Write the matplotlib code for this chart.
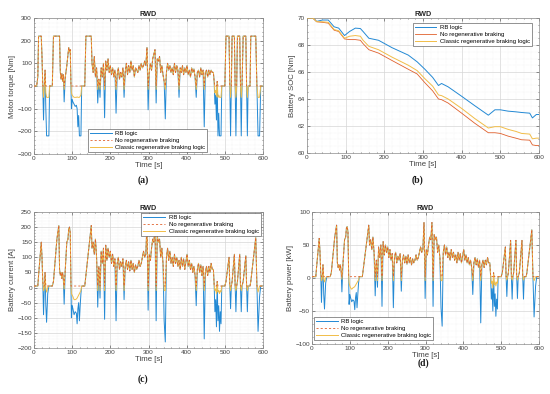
import matplotlib

matplotlib.use("Agg")
import matplotlib.pyplot as plt
from matplotlib.ticker import MultipleLocator

plt.rcParams["font.family"] = ["Liberation Sans", "DejaVu Sans"]

COLORS = {
    "rb": "#2389d4",
    "noregen": "#e0602c",
    "classic": "#f1bd48",
}
LABELS = ["RB logic", "No regenerative braking", "Classic regenerative braking logic"]

# drive cycle time base shared by torque, current and power
time_s = [
    0, 7, 10, 12, 19, 21, 23, 25, 27, 29, 31, 33, 36, 39, 41, 48,
    51, 60, 65, 67, 69, 71, 73, 75, 77, 79, 82, 86, 89, 91, 93, 95, 97,
    98, 100, 102, 105, 108, 111, 113, 115, 117, 119, 121, 123, 125, 133,
    136, 150,
    152, 155, 158, 161, 164, 167, 170, 173, 176, 179,
    182, 185, 188, 191, 194, 197, 200, 203, 206, 209,
    212, 215, 218, 221, 224, 227, 230, 233, 236, 239,
    242, 245, 248, 251, 254, 257, 260, 263, 266, 269,
    272, 275, 278, 281, 284, 287, 290, 293, 296, 299,
    302, 305, 308, 311, 314, 317, 320, 323, 326, 329,
    332, 335, 338, 341, 344, 347, 350, 353, 356, 359,
    362, 365, 368, 371, 374, 377, 380, 383, 386, 389,
    392, 395, 398, 401, 404, 407, 410, 413, 416, 419,
    422, 425, 428, 431, 434, 437, 440, 443, 446, 449,
    452, 455, 458, 461, 464, 467, 470,
    472, 474, 476, 478, 480, 482, 484, 486, 488, 490, 492, 500,
    503, 511, 513, 515, 517, 519, 525, 527, 529, 531, 533, 539, 541, 543,
    545, 548, 555, 557, 559, 561, 566, 568, 581, 584, 587, 591, 594, 600,
]

# (a) motor torque [Nm]
torque_rb = [
    0, 0, 40, 220, 220, 130, 0, -150, 0, 70, -100, -220, -220, -220, 0, 0,
    220, 220, 220, 220, 60, 30, 55, 20, 50, -70, 40, 90, 140, 170, 150, 160, 0,
    -100, -60, -70, -80, -90, -85, -100, -180, -130, -220, -220, -220, 0, 0,
    220, 220,
    100, 60, 130, 40, 80, -75, 30, -50, 80, 40,
    100, -140, 110, 70, 120, 60, 90, 50, 80, 40,
    70, -120, 50, 80, 30, 60, 40, 80, -50, 60,
    100, 50, 90, 60, 110, 70, 90, 40, 80, 70,
    60, 90, 70, 100, 80, 90, 110, 90, 170, -105,
    60, 100, 70, 120, 140, 160, -75, 120, 110, 130,
    60, 90, 50, 20, -145, 60, 100, 70, 90, 60,
    80, 50, 100, 60, 90, 70, -50, 80, 60, 90,
    50, 80, 60, 90, 50, 70, 40, 80, 60, 75,
    40, -50, 60, 70, 40, 80, 50, 70, -180, 60,
    70, 40, 70, 50, 70, 60, 60,
    20, -80, -40, -150, 20, -220, -120, -220, -220, -220, 0, 0,
    220, 220, 0, -220, 0, 220, 220, 0, -220, 0, 220, 220, 0, -220,
    0, 220, 220, 0, -220, 0, 0, 220, 220, 0, -220, -220, 0, 0,
]
torque_noregen = [
    0, 0, 40, 220, 220, 130, 0, 0, 0, 70, 0, 0, 0, 0, 0, 0,
    220, 220, 220, 220, 60, 30, 55, 20, 50, 0, 40, 90, 140, 170, 150, 160, 0,
    0, 0, 0, 0, 0, 0, 0, 0, 0, 0, 0, 0, 0, 0,
    220, 220,
    100, 60, 130, 40, 80, 0, 30, 0, 80, 40,
    100, 0, 110, 70, 120, 60, 90, 50, 80, 40,
    70, 0, 50, 80, 30, 60, 40, 80, 0, 60,
    100, 50, 90, 60, 110, 70, 90, 40, 80, 70,
    60, 90, 70, 100, 80, 90, 110, 90, 170, 0,
    60, 100, 70, 120, 140, 160, 0, 120, 110, 130,
    60, 90, 50, 20, 0, 60, 100, 70, 90, 60,
    80, 50, 100, 60, 90, 70, 0, 80, 60, 90,
    50, 80, 60, 90, 50, 70, 40, 80, 60, 75,
    40, 0, 60, 70, 40, 80, 50, 70, 0, 60,
    70, 40, 70, 50, 70, 60, 60,
    20, 0, 0, 0, 20, 0, 0, 0, 0, 0, 0, 0,
    220, 220, 0, 0, 0, 220, 220, 0, 0, 0, 220, 220, 0, 0,
    0, 220, 220, 0, 0, 0, 0, 220, 220, 0, 0, 0, 0, 0,
]
torque_classic = [
    0, 0, 40, 220, 220, 130, 0, -50, 0, 70, -30, -50, -50, -50, 0, 0,
    220, 220, 220, 220, 60, 30, 55, 20, 50, -15, 40, 90, 140, 170, 150, 160, 0,
    -30, -40, -45, -50, -50, -50, -48, -50, -50, -50, -45, -40, 0, 0,
    220, 220,
    100, 60, 130, 40, 80, -15, 30, -15, 80, 40,
    100, -15, 110, 70, 120, 60, 90, 50, 80, 40,
    70, -15, 50, 80, 30, 60, 40, 80, -15, 60,
    100, 50, 90, 60, 110, 70, 90, 40, 80, 70,
    60, 90, 70, 100, 80, 90, 110, 90, 170, -15,
    60, 100, 70, 120, 140, 160, -15, 120, 110, 130,
    60, 90, 50, 20, -15, 60, 100, 70, 90, 60,
    80, 50, 100, 60, 90, 70, -15, 80, 60, 90,
    50, 80, 60, 90, 50, 70, 40, 80, 60, 75,
    40, -15, 60, 70, 40, 80, 50, 70, -15, 60,
    70, 40, 70, 50, 70, 60, 60,
    20, -30, -20, -45, 20, -50, -40, -50, -50, -50, 0, 0,
    220, 220, 0, -50, 0, 220, 220, 0, -50, 0, 220, 220, 0, -50,
    0, 220, 220, 0, -50, 0, 0, 220, 220, 0, -50, -50, 0, 0,
]

# (c) battery current [A]
current_rb = [
    5, 5, 5, 40, 150, 100, 20, -90, 0, 50, -60, -115, -20, 5, 5, 5,
    20, 160, 205, 60, 40, 50, 30, 50, 25, -55, 60, 150, 160, 195, 200, 180, 5,
    -100, -60, -70, -90, -80, -85, -120, -70, -50, -110, -60, -20, 5, 5,
    40, 205,
    130, 150, 110, 160, 100, -65, 70, -35, 120, 80,
    130, -105, 140, 90, 130, 100, 120, 80, 110, 70,
    95, -110, 80, 100, 60, 85, 70, 95, -40, 70,
    90, 60, 85, 55, 90, 60, 80, 50, 75, 60,
    70, 90, 70, 80, 100, 120, 100, 110, 215, -75,
    110, 90, 130, 160, 150, 195, -110, 170, 150, 160,
    100, 130, 80, -110, -180, 100, 130, 90, 120, 80,
    100, 70, 110, 80, 100, 70, 90, 60, 100, 70,
    95, 60, 85, 110, 70, 90, 60, 80, 50, 70,
    40, -60, 60, 80, 50, 75, 40, 70, -170, 50,
    70, 40, 70, 50, 80, 60, 60,
    10, -80, -40, -130, 20, -110, -60, -145, -80, -120, 5, 5,
    20, 100, 5, -70, 5, 20, 110, 5, -80, 5, 20, 110, 5, -80,
    5, 20, 105, 5, -80, 5, 5, 20, 165, 5, -145, -30, 5, 5,
]
current_noregen = [
    5, 5, 5, 40, 150, 100, 20, 5, 5, 50, 5, 5, 5, 5, 5, 5,
    20, 160, 205, 60, 40, 50, 30, 50, 25, 5, 60, 150, 160, 195, 200, 180, 5,
    5, 5, 5, 5, 5, 5, 5, 5, 5, 5, 5, 5, 5, 5,
    40, 205,
    130, 150, 110, 160, 100, 5, 70, 5, 120, 80,
    130, 5, 140, 90, 130, 100, 120, 80, 110, 70,
    95, 5, 80, 100, 60, 85, 70, 95, 5, 70,
    90, 60, 85, 55, 90, 60, 80, 50, 75, 60,
    70, 90, 70, 80, 100, 120, 100, 110, 215, 5,
    110, 90, 130, 160, 150, 195, 5, 170, 150, 160,
    100, 130, 80, 5, 5, 100, 130, 90, 120, 80,
    100, 70, 110, 80, 100, 70, 90, 60, 100, 70,
    95, 60, 85, 110, 70, 90, 60, 80, 50, 70,
    40, 5, 60, 80, 50, 75, 40, 70, 5, 50,
    70, 40, 70, 50, 80, 60, 60,
    10, 5, 5, 5, 20, 5, 5, 5, 5, 5, 5, 5,
    20, 100, 5, 5, 5, 20, 110, 5, 5, 5, 20, 110, 5, 5,
    5, 20, 105, 5, 5, 5, 5, 20, 165, 5, 5, 5, 5, 5,
]
current_classic = [
    5, 5, 5, 40, 150, 100, 20, -10, 0, 50, -5, -15, 0, 5, 5, 5,
    20, 160, 205, 60, 40, 50, 30, 50, 25, -5, 60, 150, 160, 195, 200, 180, 5,
    -20, -25, -30, -40, -40, -38, -35, -30, -25, -20, -15, -10, 5, 5,
    40, 205,
    130, 150, 110, 160, 100, -10, 70, -10, 120, 80,
    130, -10, 140, 90, 130, 100, 120, 80, 110, 70,
    95, -10, 80, 100, 60, 85, 70, 95, -10, 70,
    90, 60, 85, 55, 90, 60, 80, 50, 75, 60,
    70, 90, 70, 80, 100, 120, 100, 110, 215, -10,
    110, 90, 130, 160, 150, 195, -10, 170, 150, 160,
    100, 130, 80, -10, -10, 100, 130, 90, 120, 80,
    100, 70, 110, 80, 100, 70, 90, 60, 100, 70,
    95, 60, 85, 110, 70, 90, 60, 80, 50, 70,
    40, -10, 60, 80, 50, 75, 40, 70, -10, 50,
    70, 40, 70, 50, 80, 60, 60,
    10, -10, -5, -20, 20, -15, -10, -20, -10, -15, 5, 5,
    20, 100, 5, -10, 5, 20, 110, 5, -10, 5, 20, 110, 5, -10,
    5, 20, 105, 5, -10, 5, 5, 20, 165, 5, -15, 5, 5, 5,
]

# (d) battery power [kW]
power_rb = [
    2, 2, 2, 16, 60, 40, 8, -37, 0, 20, -25, -47, -8, 2, 2, 2,
    8, 62, 80, 23, 16, 20, 12, 20, 10, -21, 23, 58, 62, 76, 78, 70, 2,
    -40, -25, -30, -36, -33, -35, -48, -30, -22, -45, -25, -8, 2, 2,
    16, 80,
    50, 58, 43, 62, 39, -27, 27, -14, 47, 31,
    50, -43, 55, 35, 50, 39, 47, 31, 43, 27,
    37, -45, 31, 39, 23, 33, 27, 37, -20, 27,
    35, 23, 33, 21, 35, 23, 31, 20, 29, 23,
    27, 35, 27, 31, 39, 47, 39, 43, 84, -31,
    43, 35, 50, 62, 58, 84, -43, 66, 58, 62,
    39, 50, 31, -45, -73, 39, 50, 35, 47, 31,
    39, 27, 43, 31, 39, 27, 35, 23, 39, 27,
    37, 23, 33, 43, 27, 35, 23, 31, 20, 27,
    16, -25, 23, 31, 20, 29, 16, 27, -68, 20,
    27, 16, 27, 20, 31, 23, 23,
    4, -32, -16, -50, 8, -43, -24, -58, -32, -47, 2, 2,
    8, 47, 2, -28, 2, 8, 57, 2, -32, 2, 8, 57, 2, -31,
    2, 8, 57, 2, -32, 2, 2, 8, 73, 2, -59, -12, 2, 2,
]
power_noregen = [
    2, 2, 2, 16, 60, 40, 8, 2, 2, 20, 2, 2, 2, 2, 2, 2,
    8, 62, 80, 23, 16, 20, 12, 20, 10, 2, 23, 58, 62, 76, 78, 70, 2,
    2, 2, 2, 2, 2, 2, 2, 2, 2, 2, 2, 2, 2, 2,
    16, 80,
    50, 58, 43, 62, 39, 2, 27, 2, 47, 31,
    50, 2, 55, 35, 50, 39, 47, 31, 43, 27,
    37, 2, 31, 39, 23, 33, 27, 37, 2, 27,
    35, 23, 33, 21, 35, 23, 31, 20, 29, 23,
    27, 35, 27, 31, 39, 47, 39, 43, 84, 2,
    43, 35, 50, 62, 58, 84, 2, 66, 58, 62,
    39, 50, 31, 2, 2, 39, 50, 35, 47, 31,
    39, 27, 43, 31, 39, 27, 35, 23, 39, 27,
    37, 23, 33, 43, 27, 35, 23, 31, 20, 27,
    16, 2, 23, 31, 20, 29, 16, 27, 2, 20,
    27, 16, 27, 20, 31, 23, 23,
    4, 2, 2, 2, 8, 2, 2, 2, 2, 2, 2, 2,
    8, 47, 2, 2, 2, 8, 57, 2, 2, 2, 8, 57, 2, 2,
    2, 8, 57, 2, 2, 2, 2, 8, 73, 2, 2, 2, 2, 2,
]
power_classic = [
    2, 2, 2, 16, 60, 40, 8, -4, 0, 20, -2, -6, 0, 2, 2, 2,
    8, 62, 80, 23, 16, 20, 12, 20, 10, -2, 23, 58, 62, 76, 78, 70, 2,
    -8, -12, -15, -17, -15, -14, -13, -11, -9, -7, -5, -3, 2, 2,
    16, 80,
    50, 58, 43, 62, 39, -4, 27, -4, 47, 31,
    50, -4, 55, 35, 50, 39, 47, 31, 43, 27,
    37, -4, 31, 39, 23, 33, 27, 37, -4, 27,
    35, 23, 33, 21, 35, 23, 31, 20, 29, 23,
    27, 35, 27, 31, 39, 47, 39, 43, 84, -4,
    43, 35, 50, 62, 58, 84, -4, 66, 58, 62,
    39, 50, 31, -4, -4, 39, 50, 35, 47, 31,
    39, 27, 43, 31, 39, 27, 35, 23, 39, 27,
    37, 23, 33, 43, 27, 35, 23, 31, 20, 27,
    16, -4, 23, 31, 20, 29, 16, 27, -4, 20,
    27, 16, 27, 20, 31, 23, 23,
    4, -8, -5, -15, 8, -10, -6, -12, -6, -8, 2, 2,
    8, 47, 2, -3, 2, 8, 57, 2, -3, 2, 8, 57, 2, -3,
    2, 8, 57, 2, -3, 2, 2, 8, 73, 2, -4, 2, 2, 2,
]

# (b) battery state of charge
soc_time = [0, 15, 25, 40, 55, 70, 82, 97, 110, 125, 138, 145, 160, 185, 220, 262, 285,
            305, 325, 340, 348, 365, 400, 434, 469, 486, 500, 520, 540, 555, 576, 583, 593, 600]
soc_rb = [70, 70, 69.75, 69.85, 69.85, 69.35, 69.25, 68.7, 69.0, 69.25, 69.22, 69.0, 68.5,
          68.35, 67.8, 67.25, 66.75, 66.2, 65.6, 65.0, 65.15, 64.9, 64.2, 63.5, 62.8, 63.2,
          63.2, 63.1, 63.05, 63.0, 62.95, 62.6, 62.85, 62.85]
soc_noregen = [70, 70, 69.72, 69.68, 69.62, 69.1, 69.0, 68.45, 68.4, 68.4, 68.35, 68.1, 67.65,
               67.4, 66.85, 66.2, 65.85, 65.2, 64.6, 64.0, 63.95, 63.7, 62.95, 62.2, 61.5, 61.5,
               61.45, 61.25, 61.1, 60.98, 60.95, 60.6, 60.55, 60.55]
soc_classic = [70, 70, 69.73, 69.72, 69.68, 69.15, 69.05, 68.5, 68.65, 68.7, 68.65, 68.35, 67.9,
               67.65, 67.1, 66.5, 66.1, 65.5, 64.95, 64.3, 64.25, 64.0, 63.3, 62.55, 61.85, 61.95,
               61.95, 61.75, 61.6, 61.45, 61.4, 61.05, 61.1, 61.1]


def style_axis(ax, ylim, ystep, yminor, ylabel):
    ax.set_xlim(0, 600)
    ax.set_ylim(*ylim)
    ax.xaxis.set_major_locator(MultipleLocator(100))
    ax.xaxis.set_minor_locator(MultipleLocator(20))
    ax.yaxis.set_major_locator(MultipleLocator(ystep))
    ax.yaxis.set_minor_locator(MultipleLocator(yminor))
    ax.grid(which="major", color="#d6d6d6", linewidth=0.5)
    ax.grid(which="minor", color="#ebebeb", linewidth=0.35, linestyle=":")
    ax.set_axisbelow(True)
    ax.tick_params(which="both", direction="in", top=True, right=True, labelsize=4.6,
                   colors="#404040", width=0.4, pad=1.5)
    ax.tick_params(which="major", length=2)
    ax.tick_params(which="minor", length=1)
    for spine in ax.spines.values():
        spine.set_color("#8c8c8c")
        spine.set_linewidth(0.5)
    ax.set_title("RWD", fontsize=5.2, fontweight="bold", color="#262626", pad=1.5)
    ax.set_xlabel("Time [s]", fontsize=5.6, color="#404040", labelpad=1)
    ax.set_ylabel(ylabel, fontsize=5.6, color="#404040", labelpad=1)


def draw_lines(ax, t, rb, noregen, classic, dashed=True):
    # dashed no-regen trace sits on top of the pale classic trace, as in the original
    h_rb, = ax.plot(t, rb, color=COLORS["rb"], linewidth=0.7, zorder=2)
    style = (0, (2.5, 2.5)) if dashed else "-"
    h_nr, = ax.plot(t, noregen, color=COLORS["noregen"], linewidth=0.6, linestyle=style,
                    zorder=4 if dashed else 2.5)
    h_cl, = ax.plot(t, classic, color=COLORS["classic"], linewidth=0.7, zorder=3)
    return [h_rb, h_nr, h_cl]


def add_legend(ax, handles, loc, anchor):
    leg = ax.legend(handles, LABELS, loc=loc, bbox_to_anchor=anchor, fontsize=4.3, frameon=True,
                    fancybox=False, edgecolor="#404040", framealpha=1, handlelength=3.6,
                    borderpad=0.35, labelspacing=0.3, handletextpad=0.6, borderaxespad=0)
    leg.get_frame().set_linewidth(0.4)
    leg.set_zorder(10)


fig = plt.figure(figsize=(5.5, 3.94), dpi=100)
fig.patch.set_facecolor("white")

ax_a = fig.add_axes([0.0618, 0.6091, 0.4164, 0.3452])
handles = draw_lines(ax_a, time_s, torque_rb, torque_noregen, torque_classic)
style_axis(ax_a, (-300, 300), 100, 20, "Motor torque [Nm]")
add_legend(ax_a, handles, "lower left", (0.236, 0.015))

ax_b = fig.add_axes([0.5582, 0.6117, 0.4218, 0.3426])
handles = draw_lines(ax_b, soc_time, soc_rb, soc_noregen, soc_classic, dashed=False)
style_axis(ax_b, (60, 70), 2, 0.5, "Battery SOC [Nm]")
add_legend(ax_b, handles, "upper right", (0.97, 0.963))

ax_c = fig.add_axes([0.0618, 0.1168, 0.4164, 0.3452])
handles = draw_lines(ax_c, time_s, current_rb, current_noregen, current_classic)
style_axis(ax_c, (-200, 250), 50, 10, "Battery current [A]")
add_legend(ax_c, handles, "upper right", (0.99, 0.995))

ax_d = fig.add_axes([0.5673, 0.1269, 0.4127, 0.335])
handles = draw_lines(ax_d, time_s, power_rb, power_noregen, power_classic)
style_axis(ax_d, (-100, 100), 50, 10, "Battery power [kW]")
add_legend(ax_d, handles, "lower left", (0.009, 0.03))

for x, y, label in [(0.26, 0.542, "(a)"), (0.76, 0.542, "(b)"),
                    (0.26, 0.038, "(c)"), (0.769, 0.079, "(d)")]:
    fig.text(x, y, label, ha="center", va="center", fontsize=7, fontweight="bold",
             family=["Liberation Serif", "DejaVu Serif"], color="#1a1a1a")

fig.savefig("out.png", dpi=100)
